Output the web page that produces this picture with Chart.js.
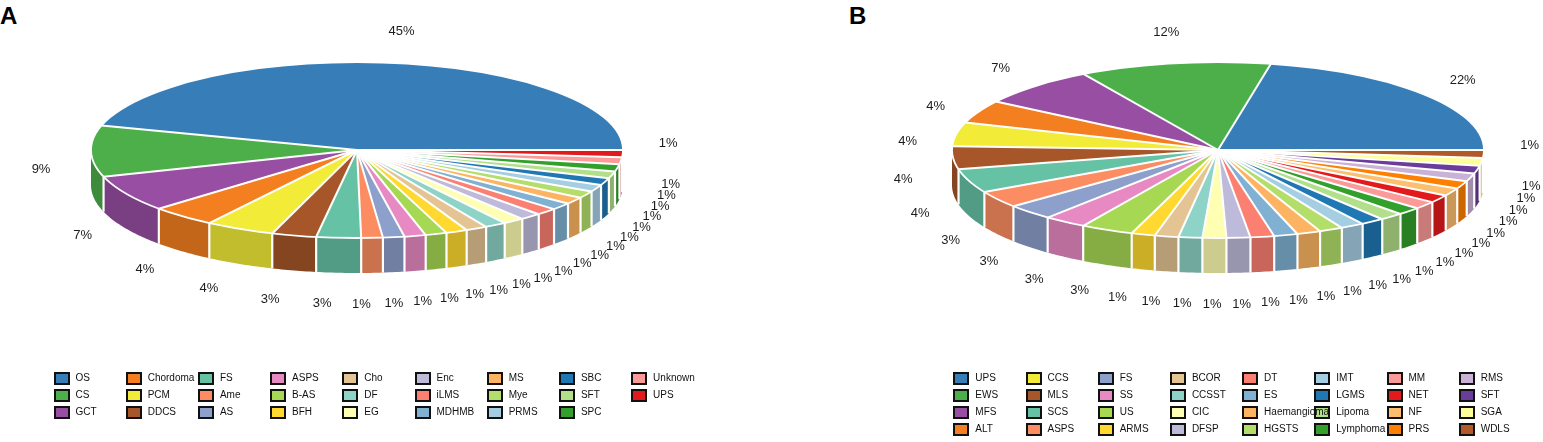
<!DOCTYPE html>
<html>
<head>
<meta charset="utf-8">
<script src="https://cdn.jsdelivr.net/npm/chart.js@4.4.1/dist/chart.umd.min.js"></script>
<style>
html,body{margin:0;padding:0;background:#fff;width:1543px;height:442px;overflow:hidden;font-family:"Liberation Sans",Arial,Helvetica,sans-serif;}
canvas{position:absolute;top:0;}
.tag{position:absolute;top:4px;font-weight:bold;font-size:24px;line-height:24px;color:#000;}
.box{position:absolute;width:16px;height:13px;border:2px solid #111;box-sizing:border-box;z-index:1;}
.ltxt{position:absolute;font-size:10px;line-height:12px;color:#111;white-space:nowrap;z-index:2;}
</style>
</head>
<body>
<div class="tag" style="left:0px">A</div>
<div class="tag" style="left:849px">B</div>
<canvas id="pieA" width="771" height="442" style="left:0px;width:771px;height:442px"></canvas>
<canvas id="pieB" width="772" height="442" style="left:771px;width:772px;height:442px"></canvas>
<div id="legends"></div>
<script>
// ---------- data ----------
const categoriesA = ['OS','CS','GCT','Chordoma','PCM','DDCS','FS','Ame','AS','ASPS','B-AS','BFH','Cho','DF','EG','Enc','iLMS','MDHMB','MS','Mye','PRMS','SBC','SFT','SPC','Unknown','UPS'];
const valuesA = [45.4, 9.4, 6.7, 4.0, 4.2, 2.7, 2.7, 1.3, 1.3, 1.3, 1.3, 1.3, 1.3, 1.3, 1.3, 1.3, 1.3, 1.3, 1.3, 1.3, 1.3, 1.3, 1.3, 1.3, 1.3, 1.3];

const categoriesB = ['UPS','EWS','MFS','ALT','CCS','MLS','SCS','ASPS','FS','SS','US','ARMS','BCOR','CCSST','CIC','DFSP','DT','ES','Haemangioma','HGSTS','IMT','LGMS','Lipoma','Lymphoma','MM','NET','NF','PRS','RMS','SFT','SGA','WDLS'];
const valuesB = [21.8, 11.6, 7.3, 4.2, 4.4, 4.2, 4.4, 3.1, 2.9, 2.6, 3.2, 1.44, 1.44, 1.44, 1.44, 1.44, 1.44, 1.44, 1.44, 1.44, 1.44, 1.44, 1.44, 1.44, 1.44, 1.44, 1.44, 1.44, 1.44, 1.44, 1.44, 1.44];

// ---------- styles ----------
const colorsA = ['#377EB8','#4DAF4A','#984EA3','#F47F20','#F2EC38','#A65628','#66C2A5','#FC8D62','#8DA0CB','#E78AC3','#A6D854','#FFD92F','#E5C494','#8DD3C7','#FFFFB3','#BEBADA','#FB8072','#80B1D3','#FDB462','#B3DE69','#A6CEE3','#1F78B4','#B2DF8A','#33A02C','#FB9A99','#E31A1C'];
const colorsB = ['#377EB8','#4DAF4A','#984EA3','#F47F20','#F2EC38','#A65628','#66C2A5','#FC8D62','#8DA0CB','#E78AC3','#A6D854','#FFD92F','#E5C494','#8DD3C7','#FFFFB3','#BEBADA','#FB8072','#80B1D3','#FDB462','#B3DE69','#A6CEE3','#1F78B4','#B2DF8A','#33A02C','#FB9A99','#E31A1C','#FDBF6F','#FF7F00','#CAB2D6','#6A3D9A','#FFFF99','#B15928'];

function shade(hex, f){
  const n = parseInt(hex.slice(1),16);
  const r=(n>>16)&255, g=(n>>8)&255, b=n&255;
  return 'rgb('+Math.round(r*f)+','+Math.round(g*f)+','+Math.round(b*f)+')';
}

const pie3d = {
  id:'pie3d',
  beforeDatasetsDraw(chart, args, o){
    const ctx = chart.ctx;
    const arcs = chart.getDatasetMeta(0).data;
    const cols = chart.data.datasets[0].backgroundColor;
    const P = (t,d)=>[o.cx + o.rx*Math.cos(t), o.cy - o.ry*Math.sin(t) + d];
    ctx.save();
    arcs.forEach((a,i)=>{
      const s = Math.max(a.startAngle, Math.PI), e = Math.min(a.endAngle, 2*Math.PI);
      if (e <= s) return;
      const n = Math.max(2, Math.ceil((e-s)*80));
      ctx.beginPath();
      for (let k=0;k<=n;k++){ const p=P(s+(e-s)*k/n,0); if(k) ctx.lineTo(p[0],p[1]); else ctx.moveTo(p[0],p[1]); }
      for (let k=n;k>=0;k--){ const p=P(s+(e-s)*k/n,o.depth); ctx.lineTo(p[0],p[1]); }
      ctx.closePath();
      ctx.fillStyle = shade(cols[i], 0.8);
      ctx.fill();
    });
    ctx.strokeStyle='#fff'; ctx.lineWidth=2.2;
    arcs.forEach(a=>{
      const t = a.startAngle;
      if (t > Math.PI && t < 2*Math.PI){
        const p=P(t,0), q=P(t,o.depth);
        ctx.beginPath(); ctx.moveTo(p[0],p[1]); ctx.lineTo(q[0],q[1]); ctx.stroke();
      }
    });
    ctx.restore();
    const a0 = arcs[0], R = a0.outerRadius;
    ctx.save();
    ctx.translate(o.cx, o.cy);
    ctx.scale(o.rx/R, -o.ry/R);
    ctx.translate(-a0.x, -a0.y);
  },
  afterDatasetsDraw(chart, args, o){
    const ctx = chart.ctx;
    ctx.restore();
    const arcs = chart.getDatasetMeta(0).data;
    const P = (t,d)=>[o.cx + o.rx*Math.cos(t), o.cy - o.ry*Math.sin(t) + d];
    ctx.save();
    ctx.strokeStyle='#fff';
    ctx.lineWidth=1.8;
    ctx.beginPath(); ctx.ellipse(o.cx, o.cy, o.rx, o.ry, 0, 0, 2*Math.PI); ctx.stroke();
    ctx.lineWidth=2;
    arcs.forEach(a=>{
      const p=P(a.startAngle,0);
      ctx.beginPath(); ctx.moveTo(o.cx,o.cy); ctx.lineTo(p[0],p[1]); ctx.stroke();
    });
    const vals = chart.data.datasets[0].data;
    const total = vals.reduce((s,v)=>s+v,0);
    const pos = arcs.map(a=>(a.startAngle+a.endAngle)/2);
    for (let i=0;i<pos.length-1;i++){
      const sep = pos[i+1]-pos[i];
      if (sep < o.minsep){ pos[i] += (sep-o.minsep)/2; pos[i+1] -= (sep-o.minsep)/2; }
    }
    ctx.font = '13px "Liberation Sans", Arial, sans-serif';
    ctx.fillStyle = '#1c1c1c';
    ctx.textAlign = 'center';
    ctx.textBaseline = 'middle';
    pos.forEach((t,i)=>{
      const x = o.cx + o.la*Math.cos(t);
      const y = o.cy + o.depth/2 - o.lb*Math.sin(t);
      ctx.fillText(Math.round(vals[i]/total*100)+'%', x, y);
    });
    ctx.restore();
  }
};

function makePie(id, cats, vals, cols, geo){
  return new Chart(document.getElementById(id), {
    type:'pie',
    data:{labels:cats, datasets:[{data:vals, backgroundColor:cols, borderWidth:0, hoverOffset:0}]},
    options:{
      responsive:false, animation:false, events:[], rotation:90, devicePixelRatio:1,
      layout:{padding:20},
      plugins:{legend:{display:false}, tooltip:{enabled:false}, pie3d:geo}
    },
    plugins:[pie3d]
  });
}

makePie('pieA', categoriesA, valuesA, colorsA, {cx:357, cy:150, rx:266, ry:88, depth:35, la:316, lb:137, minsep:0.3});
makePie('pieB', categoriesB, valuesB, colorsB, {cx:447, cy:150, rx:266, ry:88, depth:35, la:316, lb:137, minsep:0.3});

function buildLegend(cats, cols, x0, y0, rows){
  const host = document.getElementById('legends');
  cats.forEach((c,i)=>{
    const col = Math.floor(i/rows), row = i%rows;
    const x = x0 + col*72.2, y = y0 + row*17;
    const b = document.createElement('div');
    b.className='box'; b.style.left=x+'px'; b.style.top=(y-6.5)+'px'; b.style.background=cols[i];
    const t = document.createElement('div');
    t.className='ltxt'; t.style.left=(x+22)+'px'; t.style.top=(y-6)+'px'; t.textContent=c;
    host.appendChild(b); host.appendChild(t);
  });
}
buildLegend(categoriesA, colorsA, 53.5, 378.3, 3);
buildLegend(categoriesB, colorsB, 953.3, 378.3, 4);
</script>
</body>
</html>
